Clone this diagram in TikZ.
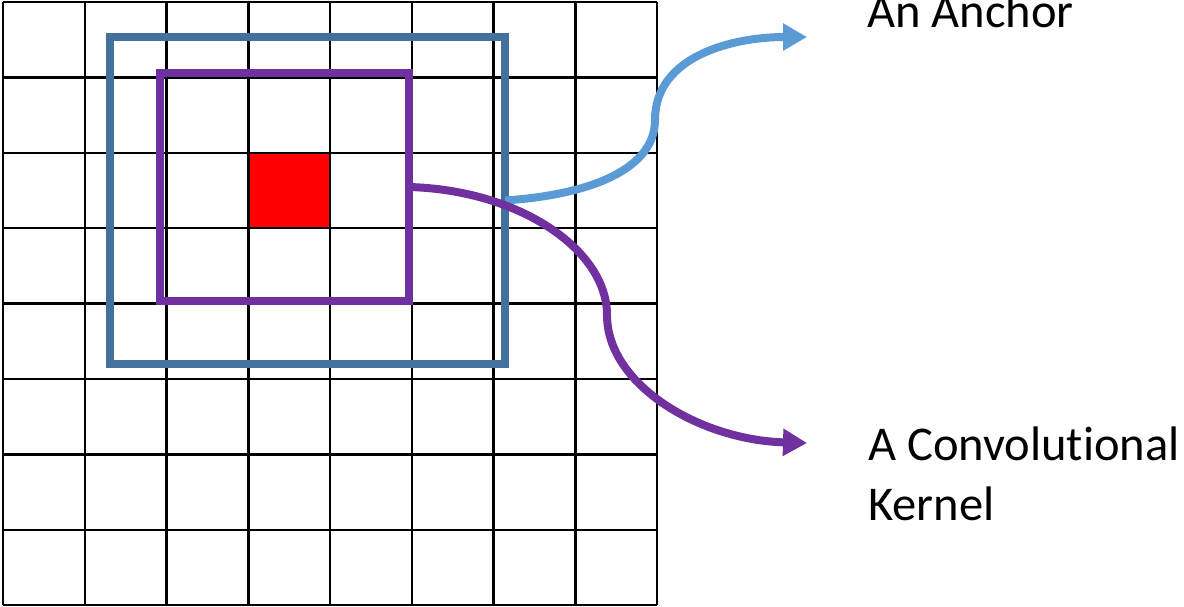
\documentclass[tikz,border=0pt]{standalone}
\usepackage{fontspec}
\setmainfont{Carlito}[Ligatures=NoCommon]
\usetikzlibrary{arrows.meta}
\definecolor{anchorbox}{HTML}{41719C}
\definecolor{anchorarrow}{HTML}{5B9BD5}
\definecolor{kernelc}{HTML}{7030A0}
\tikzset{
  gridline/.style={line width=2.5pt, black},
  boxstyle/.style={draw, line width=8.5pt, inner sep=0pt, outer sep=0pt, fill=none},
  curvearrow/.style={line width=8pt, -{Triangle[length=24pt,width=26pt]}},
  label/.style={font=\fontsize{48.5}{60}\selectfont, inner sep=0pt, align=left, anchor=base west}
}
\begin{document}
\begin{tikzpicture}[x=1pt,y=-1pt]
\useasboundingbox (0,0) rectangle (1184,606);
% red cell
\fill[red] (248.25,152.8) rectangle (330,228.2);
% grid
\foreach \i in {0,...,8} {
  \draw[gridline] (3+\i*81.75,2) -- (3+\i*81.75,605.2);
  \draw[gridline] (3,2+\i*75.4) -- (657,2+\i*75.4);
}
% boxes
\node[boxstyle, draw=anchorbox, minimum width=395pt, minimum height=327pt] (anchor) at (307.5,200.5) {};
\node[boxstyle, draw=kernelc, minimum width=249pt, minimum height=228pt] (kernel) at (284.5,187) {};
% labels
\node[label] (anchorlbl) at (867,27) {An Anchor};
\node[label] (kernellbl) at (868,520) {A Convolutional\\Kernel};
\coordinate (anchortip) at (807,37);
\coordinate (kerneltip) at (807,443);
% connectors
\draw[curvearrow, anchorarrow] (anchor.east) .. controls (600,194) and (655,165) .. (655,120)
  .. controls (655,55) and (735,37) .. (anchortip);
\draw[curvearrow, kernelc] (kernel.east) .. controls (520,190) and (607,250) .. (607,315)
  .. controls (607,385) and (700,440) .. (kerneltip);
\end{tikzpicture}
\end{document}
